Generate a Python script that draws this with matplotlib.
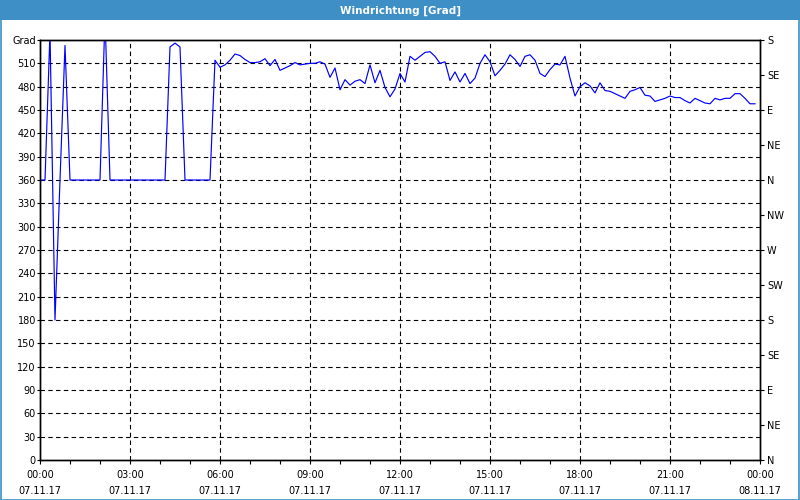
import numpy as np
import matplotlib
matplotlib.use("Agg")
import matplotlib.pyplot as plt
from matplotlib.patches import Rectangle

# ---- data (10-minute samples, 07.11.17 00:00 .. 23:50) ----
direction = [
    360, 360, 550, 180, 360, 533, 360, 360, 360, 360,
    360, 360, 360, 570, 360, 360, 360, 360, 360, 360,
    360, 360, 360, 360, 360, 360, 531, 536, 531, 360,
    360, 360, 360, 360, 360, 514, 505, 508, 514, 522,
    520, 515, 511, 511, 512, 516, 507, 515, 501, 504,
    507, 511, 508, 509, 510, 510, 512, 509, 492, 504,
    476, 489, 482, 487, 489, 484, 508, 485, 501, 479,
    467, 477, 497, 486, 519, 514, 519, 524, 525, 519,
    510, 512, 488, 499, 486, 497, 484, 491, 510, 521,
    512, 494, 501, 509, 521, 515, 506, 519, 521, 514,
    497, 493, 502, 509, 508, 519, 491, 468, 480, 485,
    481, 472, 485, 475, 474, 471, 468, 465, 474, 476,
    479, 469, 468, 461, 463, 465, 468, 466, 466, 462,
    459, 465, 462, 459, 458, 465, 463, 465, 465, 471,
    471, 465, 458, 458,
]
hours = np.arange(len(direction)) / 6.0

x_tick_hours = [0, 3, 6, 9, 12, 15, 18, 21, 24]
x_tick_labels = ["00:00\n07.11.17", "03:00\n07.11.17", "06:00\n07.11.17",
                 "09:00\n07.11.17", "12:00\n07.11.17", "15:00\n07.11.17",
                 "18:00\n07.11.17", "21:00\n07.11.17", "00:00\n08.11.17"]
left_ticks = list(range(0, 541, 30))
left_labels = [str(v) for v in left_ticks[:-1]] + ["Grad"]
right_ticks = list(range(0, 541, 45))
right_labels = ["N", "NE", "E", "SE", "S", "SW", "W", "NW",
                "N", "NE", "E", "SE", "S"]
title = "Windrichtung [Grad]"

# ---- figure ----
plt.rcParams['font.family'] = ['DejaVu Sans']
fig = plt.figure(figsize=(8, 5), dpi=100, facecolor='white')

bar_color = '#3d8fc6'
fig.patches.append(Rectangle((0, 0.96), 1, 0.04, transform=fig.transFigure,
                             facecolor=bar_color, edgecolor='none', zorder=0))
fig.patches.append(Rectangle((0.0008, 0.001), 0.998, 0.998, transform=fig.transFigure,
                             facecolor='none', edgecolor=bar_color, lw=1.2, zorder=5))
fig.text(0.5, 0.979, title, color='white', fontsize=7.5, fontweight='bold',
         ha='center', va='center')

ax = fig.add_axes([40/800, 40/500, 720/800, 420/500])
ax.set_facecolor('white')
ax.set_xlim(0, 24)
ax.set_ylim(0, 540)

dash = (0, (4, 3))
for v in left_ticks[1:-1]:
    ax.axhline(v, color='black', lw=0.8, ls=dash, zorder=1)
for h in x_tick_hours[1:-1]:
    ax.axvline(h, color='black', lw=0.8, ls=dash, zorder=1)

ax.plot(hours, direction, color='#0000ff', lw=0.85, zorder=3)

ax.set_xticks(x_tick_hours)
ax.set_xticklabels(x_tick_labels, fontsize=7, linespacing=1.75)
ax.set_xticks(range(0, 25), minor=True)
ax.set_yticks(left_ticks)
ax.set_yticklabels(left_labels, fontsize=7)
ax.tick_params(axis='x', which='both', direction='out', length=3, width=0.8, pad=4)
ax.tick_params(axis='y', which='both', direction='out', length=2, width=0.8, pad=1)
for s in ax.spines.values():
    s.set_linewidth(1.0)
    s.set_color('black')

ax2 = ax.twinx()
ax2.set_ylim(0, 540)
ax2.set_yticks(right_ticks)
ax2.set_yticklabels(right_labels, fontsize=7)
ax2.tick_params(axis='y', direction='out', length=3, width=0.8, pad=2)
for s in ax2.spines.values():
    s.set_linewidth(1.0)

fig.savefig("out.png", dpi=100, facecolor='white')
